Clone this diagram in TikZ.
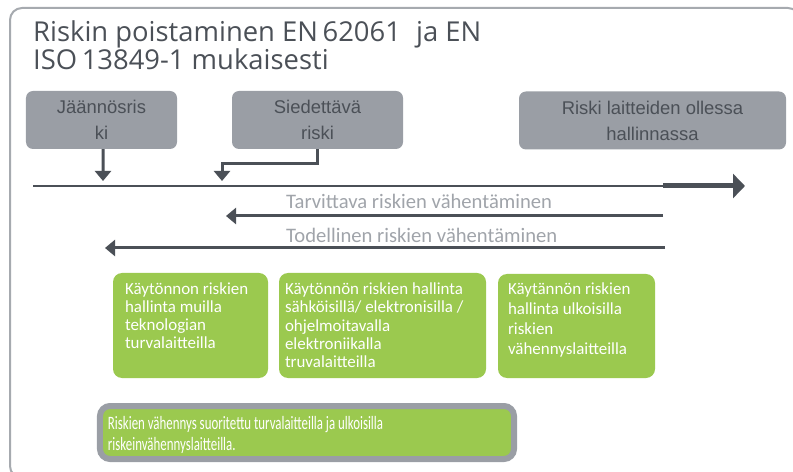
\documentclass[tikz,border=0pt]{standalone}
\usepackage{fontspec}
\setmainfont{Open Sans}
\newfontfamily\boxfont{Liberation Sans}
\newfontfamily\greenfont{Carlito}
\newfontfamily\narrowfont[FakeStretch=0.68]{Carlito}
\usetikzlibrary{arrows.meta,calc}
\definecolor{framegray}{HTML}{A6AAAF}
\definecolor{boxgray}{HTML}{9A9EA5}
\definecolor{darkslate}{HTML}{4B5057}
\definecolor{lightslate}{HTML}{A0A4AA}
\definecolor{leafgreen}{HTML}{9BC94F}
\begin{document}
\begin{tikzpicture}[x=1bp,y=-1bp,
        riskbox/.style={fill=boxgray, rounded corners=7bp, text=darkslate,
            font=\boxfont\fontsize{18.5}{26}\selectfont, align=center,
            inner sep=0pt, minimum height=58bp},
        measure/.style={fill=leafgreen, rounded corners=9bp, text=white,
            inner sep=0pt, minimum height=105bp},
        pointer/.style={darkslate, line width=3bp, -{Triangle[length=10bp,width=16bp]}},
        reductionlabel/.style={anchor=west, text=lightslate, inner sep=0pt,
            font=\greenfont\fontsize{20.7}{24}\selectfont}
    ]
        \useasboundingbox (0,0) rectangle (793,472);
        \clip (0,0) rectangle (793,472);
        \draw [framegray, line width=2bp, rounded corners=12bp] (10,8) rectangle (800,478);

        \node [anchor=north west, align=left, inner sep=0pt, text=darkslate,
            font=\fontsize{27.5}{24.5}\selectfont] (title) at (33,20.5)
            {Riskin poistaminen EN\,62061\hspace{8bp} ja EN\\ISO\,13849-1 mukaisesti};

        \node [riskbox, minimum width=151bp] (residual) at (101.5,120) {Jäännösris\\ki};
        \node [riskbox, minimum width=171bp] (tolerable) at (317.5,120) {Siedettävä\\riski};
        \node [riskbox, minimum width=267bp] (controlled) at (652.5,120.5) {Riski laitteiden ollessa\\hallinnassa};

        \coordinate (residualmark) at (103,181);
        \coordinate (tolerablemark) at (222,181);
        \draw [pointer] ($(residual.south)+(1.5,0)$) -- (residualmark);
        \draw [pointer] (tolerable.south) -- ++(0,14) -| (tolerablemark);

        \coordinate (axisstart) at (33,186);
        \coordinate (axisbend) at (663,186);
        \coordinate (axisend) at (745,186);
        \draw [darkslate, line width=2.5bp] (axisstart) -- (axisbend);
        \draw [darkslate, line width=5bp, -{Triangle[length=12bp,width=24bp]}] (axisbend) -- (axisend);

        \node [reductionlabel] (needed) at (286,201) {Tarvittava riskien vähentäminen};
        \coordinate (neededstart) at (663,216);
        \coordinate (neededend) at (226,216);
        \draw [pointer] (neededstart) -- (neededend);

        \node [reductionlabel] (actual) at (286,235) {Todellinen riskien vähentäminen};
        \coordinate (actualstart) at (665,248);
        \coordinate (actualend) at (105,248);
        \draw [pointer] (actualstart) -- (actualend);

        \node [measure, minimum width=155bp] (othertech) at (190.5,325.5)
            {\parbox[c][86bp][t]{131bp}{\greenfont\fontsize{17}{18}\selectfont
            Käytönnon riskien\\hallinta muilla\\teknologian\\turvalaitteilla}};
        \node [measure, minimum width=207bp] (electronic) at (382.5,325.5)
            {\parbox[c][86bp][t]{195bp}{\greenfont\fontsize{17}{18.5}\selectfont
            Käytönnön riskien hallinta\\sähköisillä/ elektronisilla /\\ohjelmoitavalla\\elektroniikalla\\truvalaitteilla}};
        \node [measure, minimum width=157bp, minimum height=104bp] (external) at (576.5,326)
            {\parbox[c][86bp][t]{137bp}{\greenfont\fontsize{17}{20}\selectfont
            Käytännön riskien\\hallinta ulkoisilla\\riskien\\vähennyslaitteilla}};

        \node [fill=leafgreen, draw=boxgray, line width=6bp, rounded corners=10bp,
            inner sep=0pt, minimum width=414bp, minimum height=53bp, text=white] (summary) at (307,432.5)
            {\parbox[c][33bp][t]{398bp}{\narrowfont\fontsize{19}{21}\selectfont
            Riskien vähennys suoritettu turvalaitteilla ja ulkoisilla\\riskeinvähennyslaitteilla.}};
\end{tikzpicture}
\end{document}
